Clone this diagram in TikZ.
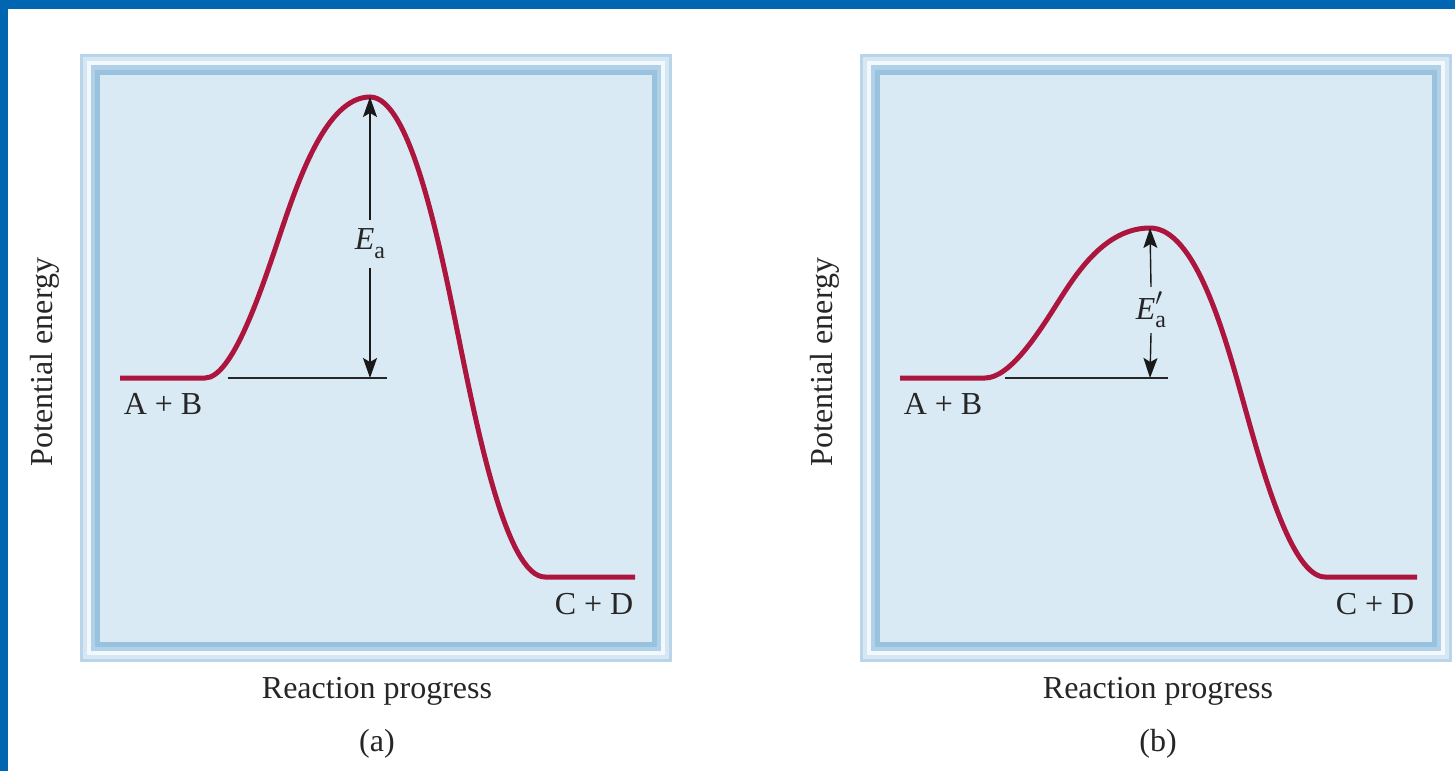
\documentclass[tikz,border=0pt]{standalone}
\usepackage{fontspec}
\setmainfont{Liberation Serif}
\usetikzlibrary{arrows.meta}
\definecolor{bluebar}{RGB}{0,102,178}
\definecolor{frA}{RGB}{186,213,234}
\definecolor{frB}{RGB}{214,231,244}
\definecolor{frC}{RGB}{243,248,253}
\definecolor{frD}{RGB}{176,209,232}
\definecolor{frE}{RGB}{152,194,222}
\definecolor{panelfill}{RGB}{217,234,245}
\definecolor{curvered}{RGB}{172,22,62}
\newcommand{\Ea}{{\itshape E}\raisebox{-0.28em}{\fontsize{24}{24}\selectfont a}}
\newcommand{\Eap}{{\itshape E}\rlap{\raisebox{0.42em}{\fontsize{26}{26}\selectfont$\prime$}}\raisebox{-0.28em}{\fontsize{24}{24}\selectfont a}}
\tikzset{arr/.style={line width=1.4pt, black!90, -{Stealth[length=20pt,width=14pt,inset=4pt]}}}
\begin{document}
\begin{tikzpicture}[x=1pt,y=-1pt,
  lbl/.style={font=\fontsize{32}{38}\selectfont, inner sep=0pt, text=black!85},
  energy/.style={line width=5pt, curvered},
  baseln/.style={line width=1.3pt, black!85}]
\useasboundingbox (0,0) rectangle (1455,771);
\fill[white] (0,0) rectangle (1455,771);
\fill[bluebar] (0,0) rectangle (1455,9);
\fill[bluebar] (0,0) rectangle (8,771);
% frames
\foreach \dx in {0,780}{
  \begin{scope}[xshift=\dx pt]
    \fill[frA] (80,54) rectangle (672,662);
    \fill[frB] (83,57) rectangle (669,659);
    \fill[frC] (87,61) rectangle (665,655);
    \fill[frD] (91,65) rectangle (661,651);
    \fill[frE] (95,70) rectangle (657,647);
    \fill[panelfill] (100,75) rectangle (652,642);
  \end{scope}
}
% ---------- panel (a)
\coordinate (sa) at (120,378);
\coordinate (fa) at (635,577);
\coordinate (pa) at (370,97);
\coordinate (ba) at (370,378);
\coordinate (la) at (228,378);
\coordinate (ra) at (387,378);
\draw[energy] (sa) -- (205,378) .. controls (232,378) and (260.2,293.7) .. (279,237.5)
  .. controls (297.8,181.3) and (326,97) .. (pa)
  .. controls (410,97) and (439.1,241) .. (458.5,337)
  .. controls (477.9,433) and (507,577) .. (545,577) -- (fa);
\draw[baseln] (la) -- (ra);
\node[lbl, minimum height=48pt] (ea) at (370,244) {\Ea};
\draw[arr] (ea.north) -- (pa);
\draw[arr] (ea.south) -- (ba);
\node[lbl, anchor=base] (abA) at (163,414) {A + B};
\node[lbl, anchor=base] (cdA) at (594,614) {C + D};
\node[lbl, rotate=90] (peA) at (45,362) {Potential energy};
\node[lbl, anchor=base] (rpA) at (377,698) {Reaction progress};
\node[lbl, anchor=base] (capA) at (377,751) {(a)};
% ---------- panel (b)
\coordinate (sb) at (900,378);
\coordinate (fb) at (1417,577);
\coordinate (pb) at (1150,228);
\coordinate (bb) at (1150,378);
\coordinate (lb) at (1005,378);
\coordinate (rb) at (1168,378);
\draw[energy] (sb) -- (985,378) .. controls (1010,378) and (1038.5,333) .. (1057.5,303)
  .. controls (1076.5,273) and (1105,228) .. (pb)
  .. controls (1195,228) and (1224.1,332.7) .. (1243.5,402.5)
  .. controls (1262.9,472.3) and (1292,577) .. (1325,577) -- (fb);
\draw[baseln] (lb) -- (rb);
\node[lbl, minimum height=46pt] (eb) at (1151,310) {\Eap};
\draw[arr] (eb.north) -- (pb);
\draw[arr] (eb.south) -- (bb);
\node[lbl, anchor=base] (abB) at (943,414) {A + B};
\node[lbl, anchor=base] (cdB) at (1375,614) {C + D};
\node[lbl, rotate=90] (peB) at (825,362) {Potential energy};
\node[lbl, anchor=base] (rpB) at (1158,698) {Reaction progress};
\node[lbl, anchor=base] (capB) at (1158,751) {(b)};
\end{tikzpicture}
\end{document}
